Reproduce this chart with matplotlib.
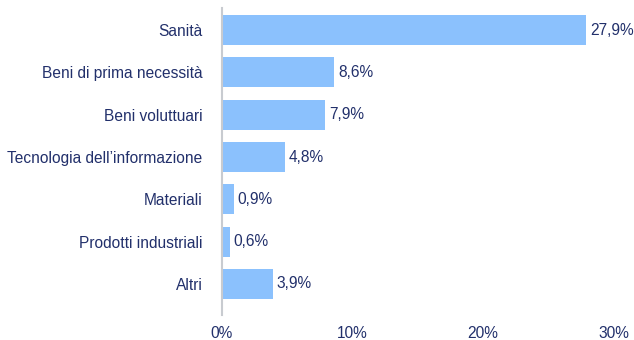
import matplotlib.pyplot as plt
from matplotlib.ticker import FuncFormatter

settori = ['Sanità', 'Beni di prima necessità', 'Beni voluttuari',
           'Tecnologia dell’informazione', 'Materiali', 'Prodotti industriali', 'Altri']
pesi = [27.9, 8.6, 7.9, 4.8, 0.9, 0.6, 3.9]

navy = '#22306b'
azzurro = '#8bc1fd'

plt.rcParams['font.family'] = ['Liberation Sans', 'DejaVu Sans']

fig = plt.figure(figsize=(6.34, 3.4), dpi=100)
ax = fig.add_axes([0.350, 0.074, 0.618, 0.902])

pos = range(len(settori))
bars = ax.barh(pos, pesi, height=0.71, color=azzurro, zorder=2)

for b, v in zip(bars, pesi):
    ax.text(b.get_width() + 0.3, b.get_y() + b.get_height() / 2,
            f'{v:.1f}%'.replace('.', ','), va='center', ha='left',
            color=navy, fontsize=11.2)

ax.set_yticks(list(pos))
ax.set_yticklabels(settori)
ax.set_ylim(6.73, -0.52)
ax.set_xlim(0, 30)
ax.set_xticks([0, 10, 20, 30])
ax.xaxis.set_major_formatter(FuncFormatter(lambda x, p: f'{x:.0f}%'))

for s in ['top', 'right', 'bottom']:
    ax.spines[s].set_visible(False)
ax.spines['left'].set_color('#c8cbd0')
ax.spines['left'].set_linewidth(1.5)
ax.tick_params(axis='both', length=0, labelsize=11.2, labelcolor=navy)
ax.tick_params(axis='y', pad=14)
ax.tick_params(axis='x', pad=8)

fig.savefig('out.png', dpi=100)
